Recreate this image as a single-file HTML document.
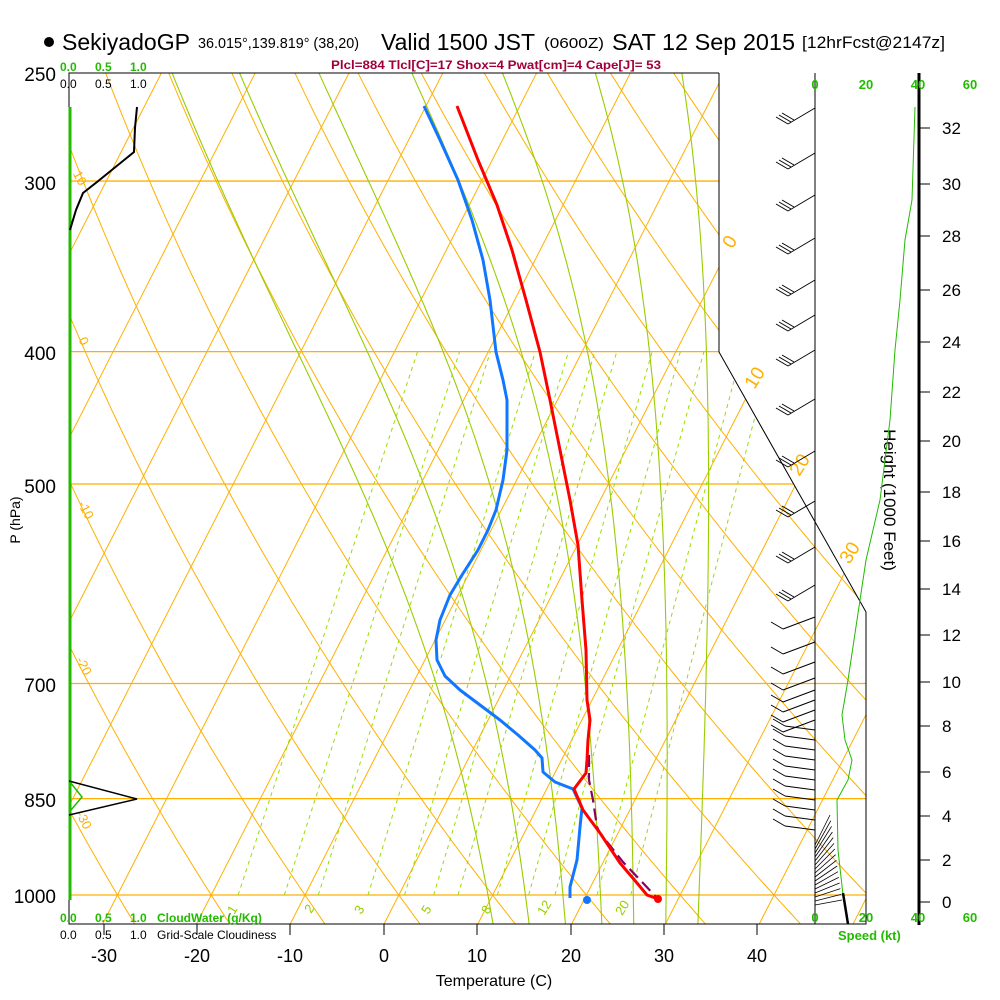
<!DOCTYPE html>
<html><head><meta charset="utf-8"><style>
body{margin:0;background:#fff}
svg{display:block;font-family:"Liberation Sans",sans-serif}
</style></head><body>
<svg id="s" width="1000" height="1000" viewBox="0 0 1000 1000" xmlns="http://www.w3.org/2000/svg">
<defs><clipPath id="cp"><polygon points="69,73 719,73 719,352 866,612 866,924 69,924"/></clipPath></defs>
<g id="bg" clip-path="url(#cp)"></g>
<!-- header -->
<circle cx="49" cy="42" r="5" fill="#000"/>
<text x="62" y="50" font-size="23" textLength="128" lengthAdjust="spacingAndGlyphs">SekiyadoGP</text>
<text x="198" y="48" font-size="15" textLength="161" lengthAdjust="spacingAndGlyphs">36.015°,139.819° (38,20)</text>
<text x="381" y="50" font-size="23" textLength="154" lengthAdjust="spacingAndGlyphs">Valid 1500 JST</text>
<text x="544" y="48" font-size="15" textLength="60" lengthAdjust="spacingAndGlyphs">(0600Z)</text>
<text x="612" y="50" font-size="23" textLength="183" lengthAdjust="spacingAndGlyphs">SAT 12 Sep 2015</text>
<text x="802" y="48" font-size="17" textLength="143" lengthAdjust="spacingAndGlyphs">[12hrFcst@2147z]</text>
<text x="331" y="69" font-size="12" fill="#a0003a" font-weight="bold" textLength="330" lengthAdjust="spacingAndGlyphs">Plcl=884 Tlcl[C]=17 Shox=4 Pwat[cm]=4 Cape[J]= 53</text>
<g font-size="12" font-weight="bold" fill="#22bb00"><text x="60" y="71">0.0</text><text x="95" y="71">0.5</text><text x="130" y="71">1.0</text></g>
<g font-size="12" fill="#000"><text x="60" y="88">0.0</text><text x="95" y="88">0.5</text><text x="130" y="88">1.0</text></g>
<g font-size="19" text-anchor="end"><text x="56" y="81">250</text><text x="56" y="190">300</text><text x="56" y="360">400</text><text x="56" y="493">500</text><text x="56" y="692">700</text><text x="56" y="807">850</text><text x="56" y="903">1000</text></g>
<text transform="translate(20,520) rotate(-90)" font-size="14" text-anchor="middle">P (hPa)</text>
<!-- frame -->
<g stroke="#000" stroke-width="1" fill="none">
<polyline points="719,73 69,73 69,924 866,924 866,612 719,352 719,73"/>
<line x1="815" y1="73" x2="815" y2="924"/>
</g>
<line x1="919" y1="73" x2="919" y2="925" stroke="#000" stroke-width="3"/>
<g id="ticks" stroke="#000"></g>
<g font-size="18" text-anchor="middle"><text x="104" y="962">-30</text><text x="197" y="962">-20</text><text x="290" y="962">-10</text><text x="384" y="962">0</text><text x="477" y="962">10</text><text x="571" y="962">20</text><text x="664" y="962">30</text><text x="757" y="962">40</text></g>
<text x="494" y="986" font-size="16" text-anchor="middle">Temperature (C)</text>
<g font-size="12" font-weight="bold" fill="#22bb00"><text x="60" y="922">0.0</text><text x="95" y="922">0.5</text><text x="130" y="922">1.0</text><text x="157" y="922">CloudWater (g/Kg)</text></g>
<g font-size="12" fill="#000"><text x="60" y="939">0.0</text><text x="95" y="939">0.5</text><text x="130" y="939">1.0</text><text x="157" y="939">Grid-Scale Cloudiness</text></g>
<g font-size="13" font-weight="bold" fill="#22bb00" text-anchor="middle"><text x="815" y="89">0</text><text x="866" y="89">20</text><text x="918" y="89">40</text><text x="970" y="89">60</text>
<text x="815" y="922">0</text><text x="866" y="922">20</text><text x="918" y="922">40</text><text x="970" y="922">60</text></g>
<text x="838" y="940" font-size="13" font-weight="bold" fill="#22bb00">Speed (kt)</text>
<text transform="translate(884,500) rotate(90)" font-size="17" text-anchor="middle">Height (1000 Feet)</text>
<g id="hl" font-size="17"></g>
<g id="fg"></g>
</svg>
<script>
var NS="http://www.w3.org/2000/svg";
function el(par,tag,a){var e=document.createElementNS(NS,tag);for(var k in a)e.setAttribute(k,a[k]);par.appendChild(e);return e;}
function Y(p){return 895-593*Math.log(1000/p);}
function X(T,p){return 384+9.38*T+0.51*(924-Y(p));}
var bg=document.getElementById('bg'),fg=document.getElementById('fg');
var OR="#ffb000",GR="#99cc00";
function pl(par,pts,st){el(par,'polyline',Object.assign({points:pts.map(function(q){return q[0].toFixed(1)+','+q[1].toFixed(1)}).join(' '),fill:'none'},st));}
[300,400,500,700,850,1000].forEach(function(p){el(bg,'line',{x1:69,x2:866,y1:Y(p),y2:Y(p),stroke:OR,'stroke-width':1.3});});
for(var T=-120;T<=50;T+=10){pl(bg,[[X(T,1060),Y(1060)],[X(T,240),Y(240)]],{stroke:OR,'stroke-width':1});}
for(var th=-60;th<=200;th+=10){var pts=[];for(var p=1060;p>=240;p-=10){var Tk=(th+273.15)*Math.pow(p/1000,0.286);pts.push([X(Tk-273.15,p),Y(p)]);}pl(bg,pts,{stroke:OR,'stroke-width':1});}
function es(T){return 6.112*Math.exp(17.67*T/(T+243.5));}
function dTdp(T,p){var Tk=T+273.15,e=es(T),w=0.622*e/(p-e);return (287*Tk+2.5e6*w)/(p*(1004+2.5e6*2.5e6*w*0.622/(287*Tk*Tk)));}
[9.5,13.5,17.5,21.5,25,28.5,32].forEach(function(tw){var T=tw,pts=[];var T2=tw;for(var p=1000;p<1060;p+=5){T2+=dTdp(T2,p)*5;}pts.push([X(T2,1060),Y(1060)]);
for(var p=1000;p>=240;p-=5){pts.push([X(T,p),Y(p)]);T-=dTdp(T,p)*5;}
pl(bg,pts,{stroke:GR,'stroke-width':1.1});});
[1,1.5,2,3,4,5,6,8,10,12,16,20].forEach(function(w){var pts=[];[1000,400].forEach(function(p){var e=w/1000*p/(0.622+w/1000),l=Math.log(e/6.112),Td=243.5*l/(17.67-l);pts.push([X(Td,p),Y(p)]);});pl(bg,pts,{stroke:"#99dd00",'stroke-width':1,'stroke-dasharray':'4,4'});});
function lab(x,y,t,c,r,s){var e=el(fg,'text',{transform:'translate('+x+','+y+') rotate('+r+')',fill:c,'font-size':s,'text-anchor':'middle'});e.textContent=t;}
[[76,180,'10'],[80,343,'0'],[82,512,'-10'],[80,668,'-20'],[80,822,'-30']].forEach(function(a){lab(a[0],a[1],a[2],OR,62,13);});
[[735,245,'0'],[760,381,'10'],[805,468,'20'],[855,556,'30']].forEach(function(a){lab(a[0],a[1],a[2],OR,-58,19);});
[[236,912,'1'],[313,911,'2'],[363,912,'3'],[430,912,'5'],[490,912,'8'],[548,910,'12'],[626,910,'20']].forEach(function(a){lab(a[0],a[1],a[2],GR,-58,13);});
var tk=document.getElementById('ticks');
[104,197,290,384,477,571,664,757].forEach(function(x){el(tk,'line',{x1:x,x2:x,y1:924,y2:935});});
var hl=document.getElementById('hl');
[[0,902],[2,860],[4,816],[6,772],[8,726],[10,682],[12,635],[14,589],[16,541],[18,492],[20,441],[22,392],[24,342],[26,290],[28,236],[30,184],[32,128]].forEach(function(a){el(tk,'line',{x1:919,x2:930,y1:a[1],y2:a[1]});var t=el(hl,'text',{x:942,y:a[1]+6});t.textContent=a[0];});
pl(fg,[[70,107],[70,900]],{stroke:'#22bb00','stroke-width':3});
pl(fg,[[70,782],[82,797],[71,810]],{stroke:'#22bb00','stroke-width':1.5});
pl(fg,[[137,107],[135,128],[134,152],[97,182],[83,193],[76,210],[70,230]],{stroke:'#000','stroke-width':2});
pl(fg,[[69,781],[137,799],[69,815]],{stroke:'#000','stroke-width':1.5});
pl(fg,[[915,107],[912,200],[905,240],[900,300],[895,350],[890,420],[880,500],[866,560],[857,620],[848,680],[842,715],[845,740],[852,760],[848,780],[837,800],[838,850],[843,895],[848,924]],{stroke:'#22bb00','stroke-width':1});
pl(fg,[[843,893],[848,924]],{stroke:'#000','stroke-width':2.5});
var by=[108,153,195,238,280,315,350,399,451,501,547,585,617,642,662,678,690,700,710,720,730,740,750,760,770,780,790,800,810,820,830];
by.forEach(function(y,i){var dx,dy;if(i<12){dx=-27;dy=16;}else if(i<20){dx=-32;dy=12;}else{dx=-30;dy=-4;}
var ex=815+dx,ey=y+dy;el(fg,'line',{x1:815,y1:y,x2:ex,y2:ey,stroke:'#000','stroke-width':1});
var n=i<12?3:1;for(var k=0;k<n;k++){var bx=ex+k*3,byy=ey-k*2;el(fg,'line',{x1:bx,y1:byy,x2:bx-12,y2:byy-7,stroke:'#000','stroke-width':1});}});
for(var y=845;y<=905;y+=4){var f=(y-845)/60;el(fg,'line',{x1:815,y1:y,x2:830+f*12,y2:y-30+f*25,stroke:'#000','stroke-width':0.8});}
el(fg,'line',{x1:815,y1:830,x2:815,y2:910,stroke:'#000','stroke-width':1});
pl(fg,[[424,106],[440,140],[458,180],[472,220],[483,260],[490,300],[496,352],[503,380],[507,400],[507,450],[503,480],[496,510],[488,530],[478,550],[462,575],[450,595],[440,620],[436,640],[437,660],[445,676],[460,690],[480,705],[500,720],[518,735],[535,750],[542,758],[543,772],[555,782],[573,789],[582,808],[580,827],[577,860],[570,887],[570,898]],{stroke:'#1177ff','stroke-width':3,'stroke-linejoin':'round'});
pl(fg,[[589,755],[589,780],[593,800],[597,827],[600,833],[623,862],[643,883],[657,898]],{stroke:'#880066','stroke-width':2.2,'stroke-dasharray':'12,6'});
pl(fg,[[457,106],[478,160],[497,205],[512,250],[526,300],[540,352],[550,400],[560,450],[570,500],[578,545],[582,600],[586,650],[587,700],[590,720],[588,740],[587,760],[586,773],[574,789],[583,810],[600,833],[620,863],[637,883],[647,895],[658,899]],{stroke:'#ff0000','stroke-width':3,'stroke-linejoin':'round'});
el(fg,'circle',{cx:658,cy:899,r:4,fill:'#ff0000'});
el(fg,'circle',{cx:587,cy:900,r:4,fill:'#1177ff'});
</script>
</body></html>
